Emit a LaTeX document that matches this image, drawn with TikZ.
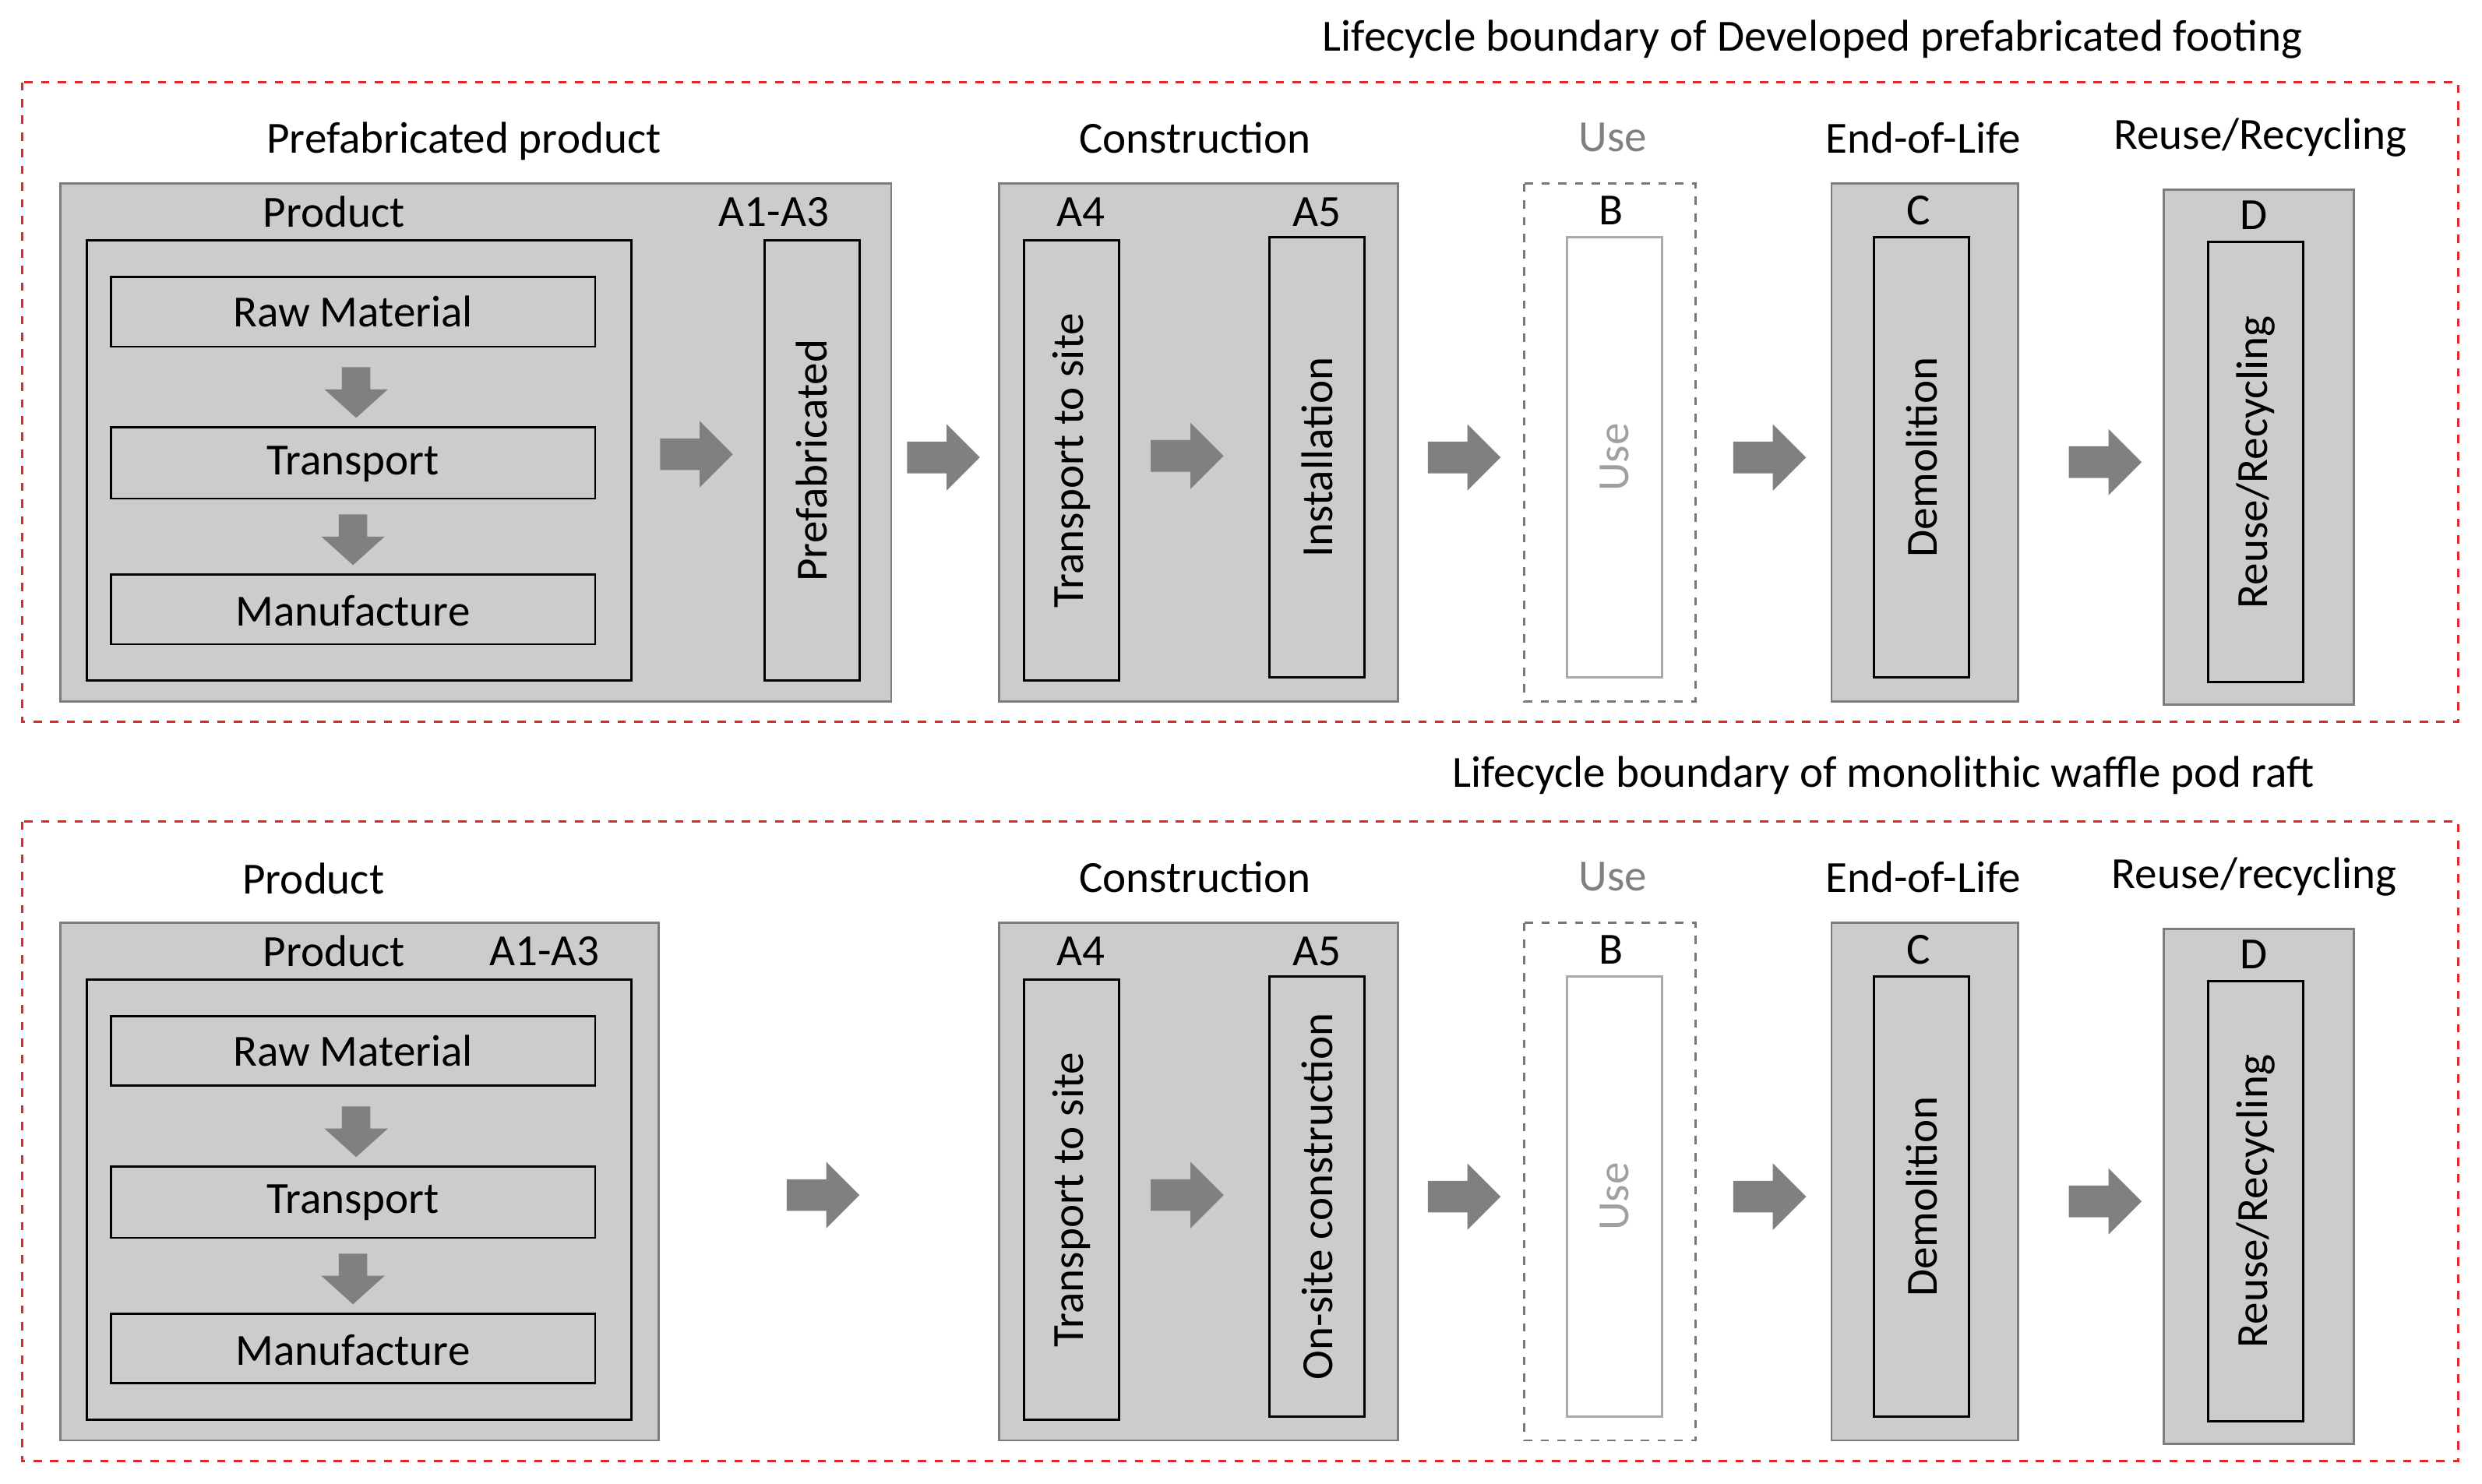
\documentclass[tikz,border=0pt]{standalone}
\usepackage{fontspec}
\setmainfont{Carlito}
\definecolor{redd}{RGB}{225,40,40}
\definecolor{fillg}{RGB}{204,204,204}
\definecolor{edgeg}{RGB}{125,125,125}
\definecolor{useg}{RGB}{120,120,120}
\definecolor{wedge}{RGB}{170,170,170}
\definecolor{txtg}{RGB}{128,128,128}
\definecolor{txtl}{RGB}{160,160,160}
\definecolor{arrg}{RGB}{128,128,128}
\begin{document}
\begin{tikzpicture}[x=0.02cm,y=-0.02cm,
  every node/.style={font=\fontsize{16}{18}\selectfont, inner sep=0pt},
  red/.style={draw=redd, dashed, line width=0.7pt},
  gbox/.style={fill=fillg, draw=edgeg, line width=0.8pt},
  ubox/.style={draw=useg, dashed, line width=0.8pt},
  ibox/.style={draw=black, line width=0.8pt},
  wbox/.style={draw=wedge, fill=white, line width=0.8pt},
  gtxt/.style={text=txtg},
  ltxt/.style={text=txtl},
  rar/.pic={\fill[arrg] (-23,-10) -- (2,-10) -- (2,-21) -- (23,0) -- (2,21) -- (2,10) -- (-23,10) -- cycle;},
  dar/.pic={\fill[arrg] (-9,-16) -- (9,-16) -- (9,-2) -- (20,-2) -- (0,16) -- (-20,-2) -- (-9,-2) -- cycle;}
]
\useasboundingbox (0,0) rectangle (1568,937.5);
\foreach \dy in {0,467}{
 \begin{scope}[yshift=-\dy*0.02cm]
  \draw[red] (14,52) rectangle (1553,456);
  \path[gbox] (631,116) rectangle (883,443);
  \node at (683,134) {A4}; \node at (832,134) {A5};
  \path[ibox] (647,152) rectangle (707,430);
  \node[rotate=90] at (677,291) {Transport to site};
  \path[ibox] (802,150) rectangle (862,428);
  \pic at (750,288) {rar};
  \pic at (925,289) {rar};
  \node at (755,87) {Construction};
  \path[ubox] (963,116) rectangle (1071,443);
  \node at (1018,133) {B};
  \path[wbox] (990,150) rectangle (1050,428);
  \node[rotate=90,ltxt] at (1020,289) {Use};
  \node[gtxt] at (1019,87) {Use};
  \pic at (1118,289) {rar};
  \path[gbox] (1157,116) rectangle (1275,443);
  \node at (1212,133) {C};
  \path[ibox] (1184,150) rectangle (1244,428);
  \node[rotate=90] at (1214,289) {Demolition};
  \node at (1215,87) {End-of-Life};
  \pic at (1330,292) {rar};
  \path[gbox] (1367,120) rectangle (1487,445);
  \node at (1424,136) {D};
  \path[ibox] (1395,153) rectangle (1455,431);
  \node[rotate=90] at (1425,292) {Reuse/Recycling};
  \ifnum\dy=0
   \path[gbox] (38,116) rectangle (563,443);
   \node at (489,134) {A1-A3};
   \path[ibox] (483,152) rectangle (543,430);
   \node[rotate=90] at (513,291) {Prefabricated};
   \pic at (440,287) {rar};
   \pic at (596,289) {rar};
   \node at (293,89) {Prefabricated product};
   \node[rotate=90] at (832,289) {Installation};
   \node at (1428,87) {Reuse/Recycling};
  \else
   \path[gbox] (38,116) rectangle (416,443);
   \node at (344,134) {A1-A3};
   \pic at (520,288) {rar};
   \node at (198,88) {Product};
   \node[rotate=90] at (832,289) {On-site construction};
   \node at (1424,87) {Reuse/recycling};
  \fi
  \node at (211,134) {Product};
  \path[ibox] (55,152) rectangle (399,430);
  \path[ibox] (70,175) rectangle (376,219); \node at (223,197) {Raw Material};
  \path[ibox] (70,270) rectangle (376,315); \node at (223,293) {Transport};
  \path[ibox] (70,363) rectangle (376,407); \node at (223,386) {Manufacture};
  \pic at (225,248) {dar};
  \pic at (223,341) {dar};
 \end{scope}}
\node at (1145,25) {Lifecycle boundary of Developed prefabricated footing};
\node at (1190,490) {Lifecycle boundary of monolithic waffle pod raft};
\end{tikzpicture}
\end{document}
